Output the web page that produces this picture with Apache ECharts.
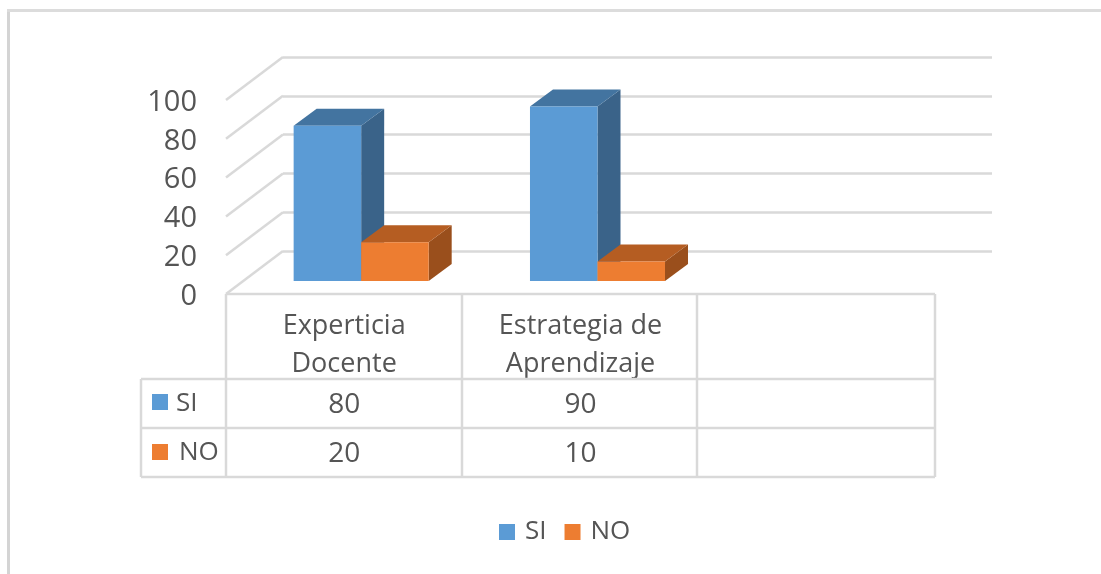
<!DOCTYPE html>
<html>
<head>
<meta charset="utf-8">
<style>html,body{margin:0;padding:0;background:#fff}#c{width:1101px;height:574px;filter:blur(0.5px)}</style>
<script src="https://cdn.jsdelivr.net/npm/echarts@6/dist/echarts.min.js"></script>
</head>
<body>
<div id="c"></div>
<script>
const categories = ['Experticia\nDocente', 'Estrategia de\nAprendizaje', ''];
const siValues = [80, 90];
const noValues = [20, 10];
const seriesNames = ['SI', 'NO'];
const yTicks = [0, 20, 40, 60, 80, 100];

const FONT = '"Open Sans", sans-serif';
const TEXT = '#555555';
const LINE = '#d9d9d9';
const BLUE = ['#5b9bd5', '#4374a0', '#3a6389'];
const ORANGE = ['#ed7d31', '#b55d22', '#9a4f1c'];
const DEPTH_X = 23, DEPTH_Y = -17;
const WALL_X = 57, WALL_Y = -43;

const chart = echarts.init(document.getElementById('c'), null, {renderer: 'canvas'});

function bar3d(colors, slot) {
  return function (params, api) {
    const idx = api.value(0), val = api.value(1);
    const w = api.size([1, 0])[0] * 0.2857;
    const c = api.coord([idx, val]);
    const b = api.coord([idx, 0]);
    const x0 = c[0] + slot * w, x1 = x0 + w, yt = c[1], yb = b[1];
    return {
      type: 'group',
      children: [
        {type: 'polygon', shape: {points: [[x1, yt], [x1 + DEPTH_X, yt + DEPTH_Y], [x1 + DEPTH_X, yb + DEPTH_Y], [x1, yb]]}, style: {fill: colors[2]}},
        {type: 'polygon', shape: {points: [[x0, yt], [x0 + DEPTH_X, yt + DEPTH_Y], [x1 + DEPTH_X, yt + DEPTH_Y], [x1, yt]]}, style: {fill: colors[1]}},
        {type: 'rect', shape: {x: x0, y: yt, width: w, height: yb - yt}, style: {fill: colors[0]}}
      ]
    };
  };
}

function tableRow(values, rowY) {
  return {
    type: 'custom', coordinateSystem: 'cartesian2d', xAxisIndex: 0, yAxisIndex: 0, silent: true, clip: false, z: 5,
    encode: {x: 0, y: 1},
    data: values.map((v, i) => [i, v]),
    renderItem: (params, api) => ({
      type: 'text',
      style: {
        x: api.coord([api.value(0), 0])[0], y: rowY,
        text: String(api.value(1)), align: 'center', verticalAlign: 'middle',
        fill: TEXT, font: '28px ' + FONT
      }
    })
  };
}

const tableX = [226, 462, 697, 935];
const tableY = [294, 379, 428, 477];
const tl = (x1, y1, x2, y2) => ({type: 'line', silent: true, z: 1, shape: {x1, y1, x2, y2}, style: {stroke: LINE, lineWidth: 2.5}});
const graphic = [
  {type: 'rect', silent: true, shape: {x: 7, y: 9, width: 3, height: 565}, style: {fill: '#d4d4d4'}},
  {type: 'rect', silent: true, shape: {x: 7, y: 9, width: 1094, height: 3}, style: {fill: '#dcdcdc'}},
  tl(tableX[0], tableY[0], tableX[3], tableY[0]),
  tl(141, tableY[1], tableX[3], tableY[1]),
  tl(141, tableY[2], tableX[3], tableY[2]),
  tl(141, tableY[3], tableX[3], tableY[3]),
  tl(141, tableY[1], 141, tableY[3]),
  ...tableX.map(x => tl(x, tableY[0], x, tableY[3])),
  {type: 'rect', silent: true, shape: {x: 152, y: 394, width: 16, height: 16}, style: {fill: BLUE[0]}},
  {type: 'rect', silent: true, shape: {x: 152, y: 444, width: 16, height: 16}, style: {fill: ORANGE[0]}},
  {type: 'text', silent: true, style: {x: 176, y: 404, text: seriesNames[0], fill: TEXT, font: '26px ' + FONT, verticalAlign: 'middle'}},
  {type: 'text', silent: true, style: {x: 179, y: 453, text: seriesNames[1], fill: TEXT, font: '26px ' + FONT, verticalAlign: 'middle'}}
];

chart.setOption({
  animation: false,
  backgroundColor: '#fff',
  graphic,
  legend: {
    data: seriesNames, left: 499, top: 519, padding: 0, icon: 'rect', itemWidth: 16, itemHeight: 16, itemGap: 18,
    textStyle: {color: TEXT, fontFamily: FONT, fontSize: 26, padding: [0, 0, 0, 5]}
  },
  grid: [
    {left: 226, top: 100, width: 709, height: 194},
    {left: 226 + WALL_X, top: 100 + WALL_Y, width: 709, height: 194},
    {left: 243, top: 87, width: 709, height: 194},
    {left: 226, top: 102.5, width: 709, height: 194}
  ],
  xAxis: [
    {gridIndex: 0, type: 'category', data: categories, axisLine: {show: false}, axisTick: {show: false},
      axisLabel: {interval: 0, color: TEXT, fontFamily: FONT, fontSize: 27, lineHeight: 38, margin: 13}},
    {gridIndex: 1, type: 'category', data: categories, show: false},
    {gridIndex: 2, type: 'category', data: categories, show: false},
    {gridIndex: 3, type: 'category', data: categories, show: false}
  ],
  yAxis: [
    {gridIndex: 0, type: 'value', min: 0, max: 100, interval: 20, show: false},
    {gridIndex: 1, type: 'value', min: 0, max: 100, interval: 20, axisLine: {show: false}, axisTick: {show: false}, axisLabel: {show: false},
      splitLine: {show: true, lineStyle: {color: LINE, width: 2.5}}},
    {gridIndex: 2, type: 'value', min: 0, max: 100, interval: 20, show: false},
    {gridIndex: 3, type: 'value', min: 0, max: 100, interval: 20, axisLine: {show: false}, axisTick: {show: false}, splitLine: {show: false},
      axisLabel: {color: TEXT, fontFamily: FONT, fontSize: 29, margin: 29}}
  ],
  series: [
    {
      type: 'custom', coordinateSystem: 'cartesian2d', xAxisIndex: 0, yAxisIndex: 0, silent: true, clip: false, z: 1,
      encode: {x: 0, y: 1},
      data: yTicks.map(t => [0, t]),
      renderItem: (params, api) => {
        const x = params.coordSys.x;
        const y = api.coord([0, api.value(1)])[1];
        return {type: 'line', shape: {x1: x, y1: y, x2: x + WALL_X, y2: y + WALL_Y}, style: {stroke: LINE, lineWidth: 2.5}};
      }
    },
    {name: seriesNames[0], type: 'custom', coordinateSystem: 'cartesian2d', xAxisIndex: 2, yAxisIndex: 2, silent: true, clip: false, z: 3,
      itemStyle: {color: BLUE[0]}, encode: {x: 0, y: 1},
      data: siValues.map((v, i) => [i, v]), renderItem: bar3d(BLUE, -1)},
    {name: seriesNames[1], type: 'custom', coordinateSystem: 'cartesian2d', xAxisIndex: 2, yAxisIndex: 2, silent: true, clip: false, z: 4,
      itemStyle: {color: ORANGE[0]}, encode: {x: 0, y: 1},
      data: noValues.map((v, i) => [i, v]), renderItem: bar3d(ORANGE, 0)},
    tableRow(siValues, 405),
    tableRow(noValues, 454)
  ]
});
</script>
</body>
</html>
